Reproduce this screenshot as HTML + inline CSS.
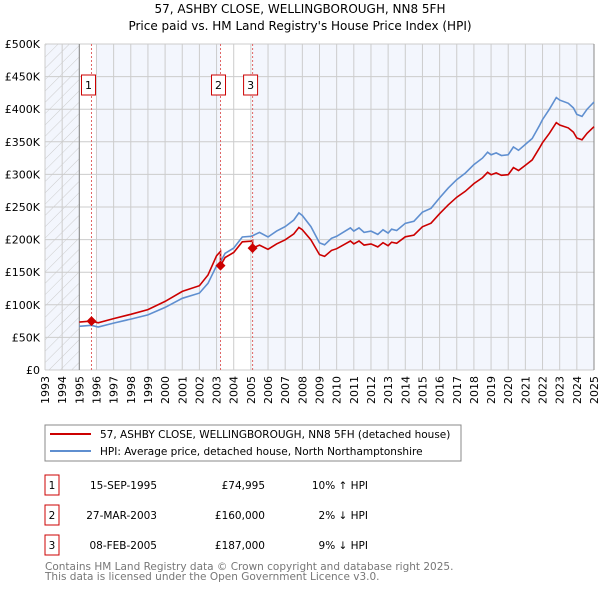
<!DOCTYPE html>
<html><head><meta charset="utf-8"><style>
body{margin:0;background:#fff;font-family:"DejaVu Sans","Liberation Sans",sans-serif;}
svg text{font-family:"DejaVu Sans","Liberation Sans",sans-serif;}
</style></head><body>
<svg id="c" width="600" height="590" xmlns="http://www.w3.org/2000/svg">
<defs><pattern id="hatch" width="8" height="8" patternUnits="userSpaceOnUse" patternTransform="rotate(45)"><line x1="0" y1="0" x2="0" y2="8" stroke="#ccc" stroke-width="1"/></pattern></defs>
<text x="300" y="13" font-size="12" text-anchor="middle">57, ASHBY CLOSE, WELLINGBOROUGH, NN8 5FH</text>
<text x="300" y="30" font-size="12" text-anchor="middle">Price paid vs. HM Land Registry's House Price Index (HPI)</text>
<g id="plot"></g>
<rect x="45" y="425" width="416" height="36" fill="#fff" stroke="#888"/>
<line x1="50" y1="434" x2="91" y2="434" stroke="#cc0000" stroke-width="2"/>
<text x="100" y="438" font-size="10.5">57, ASHBY CLOSE, WELLINGBOROUGH, NN8 5FH (detached house)</text>
<line x1="50" y1="451" x2="91" y2="451" stroke="#5f8fd0" stroke-width="2"/>
<text x="100" y="455" font-size="10.5">HPI: Average price, detached house, North Northamptonshire</text>
<g id="tbl" font-size="10.5"></g>
<text x="45" y="570" font-size="10.5" fill="#777">Contains HM Land Registry data © Crown copyright and database right 2025.</text>
<text x="45" y="580" font-size="10.5" fill="#777">This data is licensed under the Open Government Licence v3.0.</text>
</svg>
<script>
const hpiYears=[1995.0,1995.7,1996.1,1997,1998,1999,2000,2001,2002,2002.5,2003,2003.23,2003.5,2004,2004.5,2005,2005.1,2005.5,2006,2006.5,2007,2007.5,2007.8,2008,2008.5,2009,2009.3,2009.7,2010,2010.5,2010.8,2011,2011.3,2011.6,2012,2012.4,2012.7,2013,2013.2,2013.5,2014,2014.5,2015,2015.5,2016,2016.5,2017,2017.5,2018,2018.5,2018.8,2019,2019.3,2019.6,2020,2020.3,2020.6,2021,2021.4,2021.8,2022,2022.4,2022.8,2023,2023.5,2023.8,2024,2024.3,2024.6,2025];
const hpiValues=[67,68.5,66,72,78,84.5,96,110,118,133,160,166,179,187,204,205,206,211,204,213,220,230,241,237,220,195,192,202,205,213,218,213,218,211,213,208,215,210,216,214,225,228,242,248,264,279,292,302,315,325,334,330,333,329,330,342,337,346,355,374,384,400,418,414,409,402,392,389,400,411];
const saleYears=[1995.71,2003.23,2005.1];
const salePrices=[74.995,160,187];
const saleLabels=["1","2","3"];
const saleDates=["15-SEP-1995","27-MAR-2003","08-FEB-2005"];
const salePriceText=["£74,995","£160,000","£187,000"];
const saleHpiText=["10% ↑ HPI","2% ↓ HPI","9% ↓ HPI"];
const yTicks=[0,50,100,150,200,250,300,350,400,450,500];
const yTickLabels=["£0","£50K","£100K","£150K","£200K","£250K","£300K","£350K","£400K","£450K","£500K"];
const xTicks=[1993,1994,1995,1996,1997,1998,1999,2000,2001,2002,2003,2004,2005,2006,2007,2008,2009,2010,2011,2012,2013,2014,2015,2016,2017,2018,2019,2020,2021,2022,2023,2024,2025];

const X0=45,X1=594,Y0=370,Y1=44;
const xs=y=>X0+(y-1993)/(2025-1993)*(X1-X0);
const ys=v=>Y0-v/500*(Y0-Y1);
const NS="http://www.w3.org/2000/svg";
const plot=document.getElementById('plot');
function mk(tag,attrs,parent){const e=document.createElementNS(NS,tag);for(const k in attrs)e.setAttribute(k,attrs[k]);(parent||plot).appendChild(e);return e;}
function hpiAt(t){for(let i=0;i<hpiYears.length-1;i++){if(t<=hpiYears[i+1]){const f=(t-hpiYears[i])/(hpiYears[i+1]-hpiYears[i]);return hpiValues[i]+f*(hpiValues[i+1]-hpiValues[i]);}}return hpiValues[hpiValues.length-1];}

let e;
e=mk('rect',{x:X0,y:Y1,width:X1-X0,height:Y0-Y1,fill:'#f3f6fd'});

e=mk('rect',{x:X0,y:Y1,width:xs(1995)-X0,height:Y0-Y1,fill:'url(#hatch)'});

e=mk('rect',{x:xs(1995),y:Y1,width:xs(1996)-xs(1995),height:Y0-Y1,fill:'#fff'});

e=mk('rect',{x:xs(saleYears[1]),y:Y1,width:xs(saleYears[2])-xs(saleYears[1]),height:Y0-Y1,fill:'#fff'});

xTicks.forEach(t=>{e=mk('line',{x1:xs(t),x2:xs(t),y1:Y1,y2:Y0,stroke:'#ccc','stroke-width':1});

e=mk('text',{x:0,y:0,'font-size':11,'text-anchor':'end',transform:`translate(${xs(t)+4},${Y0+6}) rotate(-90)`});e.textContent=t;
});
yTicks.forEach((t,i)=>{e=mk('line',{x1:X0,x2:X1,y1:ys(t),y2:ys(t),stroke:'#ccc','stroke-width':1});

e=mk('text',{x:40,y:ys(t)+4,'font-size':11,'text-anchor':'end'});e.textContent=yTickLabels[i];
});
e=mk('line',{x1:xs(1995),x2:xs(1995),y1:Y1,y2:Y0,stroke:'#888'});

e=mk('line',{x1:X1,x2:X1,y1:Y1,y2:Y0,stroke:'#888'});


let d=hpiYears.map((t,i)=>(i?'L':'M')+xs(t).toFixed(1)+','+ys(hpiValues[i]).toFixed(1)).join('');
e=mk('path',{d:d,fill:'none',stroke:'#5f8fd0','stroke-width':1.6});

const factors=saleYears.map((t,i)=>salePrices[i]/hpiAt(t));
let pts=[];
hpiYears.forEach((t,i)=>{let seg=0;for(let k=0;k<saleYears.length;k++)if(t>=saleYears[k])seg=k;
pts.push([t,hpiValues[i]*factors[seg]]);});
saleYears.forEach((t,k)=>{if(k>0)pts.push([t-0.001,hpiAt(t)*factors[k-1]]);pts.push([t,salePrices[k]]);});
pts.sort((a,b)=>a[0]-b[0]);
d=pts.map((p,i)=>(i?'L':'M')+xs(p[0]).toFixed(1)+','+ys(p[1]).toFixed(1)).join('');
e=mk('path',{d:d,fill:'none',stroke:'#cc0000','stroke-width':1.6});


saleYears.forEach((t,k)=>{
e=mk('line',{x1:xs(t),x2:xs(t),y1:Y1,y2:Y0,stroke:'#e06666','stroke-dasharray':'2,2'});

const cx=xs(t),cy=ys(salePrices[k]);
e=mk('path',{d:`M${cx},${cy-5}L${cx+5},${cy}L${cx},${cy+5}L${cx-5},${cy}Z`,fill:'#cc0000'});

const bx=k==0?cx-10:cx-9;
e=mk('rect',{x:bx,y:75,width:14,height:20,fill:'#fff',stroke:'#cc0000'});

e=mk('text',{x:bx+7,y:89,'font-size':11,'text-anchor':'middle'});e.textContent=saleLabels[k];

});
const tbl=document.getElementById('tbl');
saleYears.forEach((t,k)=>{const y=475+k*30;
e=mk('rect',{x:45,y:y,width:14,height:20,fill:'#fff',stroke:'#cc0000'},tbl);

e=mk('text',{x:52,y:y+14,'text-anchor':'middle'},tbl);e.textContent=saleLabels[k];

e=mk('text',{x:157,y:y+14,'text-anchor':'end'},tbl);e.textContent=saleDates[k];

e=mk('text',{x:265,y:y+14,'text-anchor':'end'},tbl);e.textContent=salePriceText[k];

e=mk('text',{x:368,y:y+14,'text-anchor':'end'},tbl);e.textContent=saleHpiText[k];

});
</script>
</body></html>
